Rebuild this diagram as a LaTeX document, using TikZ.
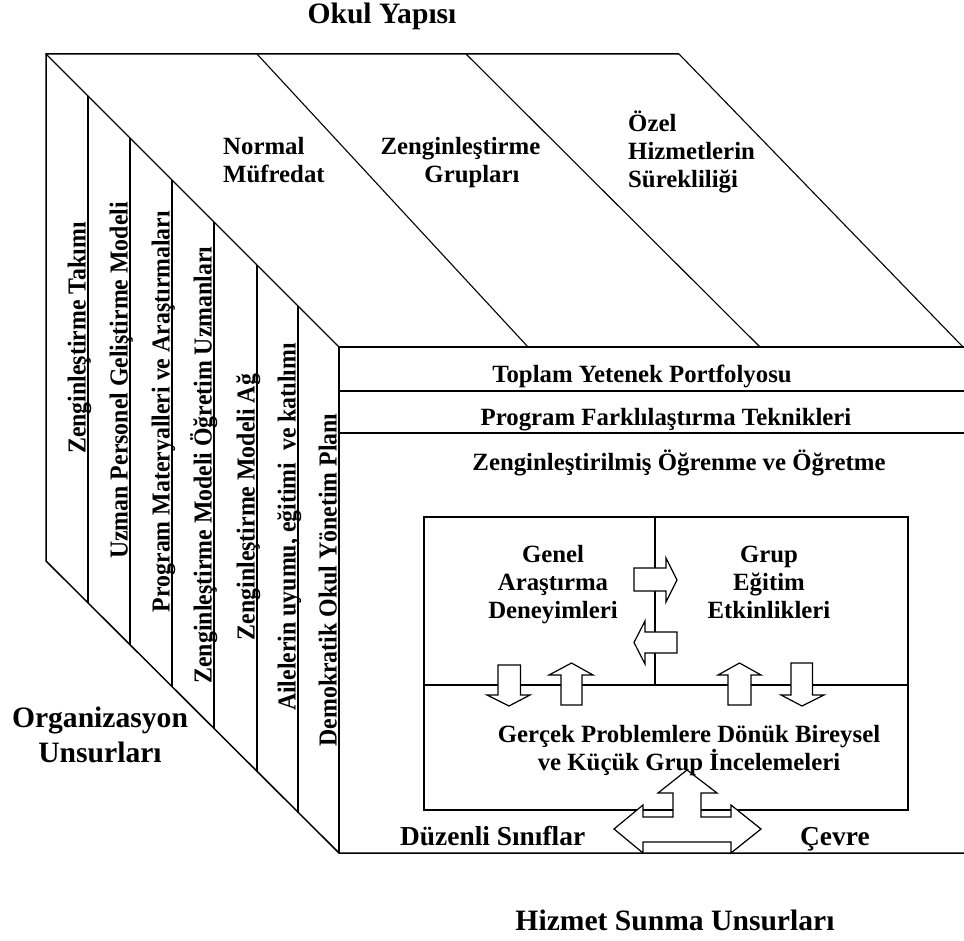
\documentclass[tikz,border=0pt]{standalone}
\usepackage{fontspec}
\setmainfont{Liberation Serif}
\newfontfamily\vfont{Liberation Serif}[FakeStretch=0.92]
\begin{document}
\begin{tikzpicture}[x=1pt,y=-1pt,
  lbl/.style={font=\bfseries\fontsize{24.8}{28}\selectfont, inner sep=0pt, anchor=base},
  lblw/.style={lbl, anchor=base west},
  vlbl/.style={font=\vfont\bfseries\fontsize{25.9}{29}\selectfont, inner sep=0pt, anchor=base, rotate=90},
  bigl/.style={font=\bfseries\fontsize{29.6}{34}\selectfont, inner sep=0pt, anchor=base},
  midl/.style={font=\bfseries\fontsize{27.4}{32}\selectfont, inner sep=0pt, anchor=base west},
  edge/.style={line width=1.5pt, line join=miter},
  thin/.style={line width=1.1pt},
  blk/.style={draw, fill=white, line width=1.2pt, line join=miter}]
\useasboundingbox (0,0) rectangle (964,941);

% corner coordinates of the block
\coordinate (tl) at (46,54);
\coordinate (tr) at (679,54);
\coordinate (lb) at (46,561);
\coordinate (ft) at (339,347);
\coordinate (fb) at (339,853);
\coordinate (fr) at (964,347);
\coordinate (frb) at (964,853);
\coordinate (trb) at (963,347);

% outline
\draw[edge] (tr) -- (tl) -- (lb) -- (fb) -- (frb);
\draw[edge] (ft) -- (fr);
\draw[edge] (ft) -- (fb);
\draw[thin] (tl) -- (ft);
\draw[thin] (tr) -- (trb);

% top face dividers
\coordinate (d1a) at (257,54); \coordinate (d1b) at (528,347);
\coordinate (d2a) at (466,54); \coordinate (d2b) at (760,347);
\draw[thin] (d1a) -- (d1b);
\draw[thin] (d2a) -- (d2b);

% left face strips
\foreach \x in {88,130,172,214,257,298}{
  \draw[edge] (\x,\x+8) -- (\x,\x+515);
}

% front face bands
\coordinate (b1l) at (339,391); \coordinate (b1r) at (964,391);
\coordinate (b2l) at (339,433); \coordinate (b2r) at (964,433);
\draw[edge] (b1l) -- (b1r);
\draw[edge] (b2l) -- (b2r);

% inner box
\coordinate (ib1) at (424,517); \coordinate (ib2) at (908,810);
\draw[edge] (ib1) rectangle (ib2);
\coordinate (vd1) at (655,517); \coordinate (vd2) at (655,685);
\coordinate (hm1) at (424,685); \coordinate (hm2) at (908,685);
\draw[thin] (vd1) -- (vd2);
\draw[edge] (hm1) -- (hm2);

% block arrows
\draw[blk] (634,568) -- (666,568) -- (666,558) -- (677,580) -- (666,602) -- (666,591) -- (634,591) -- cycle;
\draw[blk] (677,632) -- (645,632) -- (645,621) -- (634,642.5) -- (645,664) -- (645,653) -- (677,653) -- cycle;
\draw[blk] (498,665) -- (520.5,665) -- (520.5,695) -- (530,695) -- (509,706) -- (487,695) -- (498,695) -- cycle;
\draw[blk] (571.5,663) -- (593,675) -- (582,675) -- (582,705) -- (561,705) -- (561,675) -- (549,675) -- cycle;
\draw[blk] (739.5,663) -- (761,675) -- (751,675) -- (751,705) -- (728,705) -- (728,675) -- (718,675) -- cycle;
\draw[blk] (791,663) -- (812.5,663) -- (812.5,695) -- (824,695) -- (802,706) -- (781,695) -- (791,695) -- cycle;
% cross-shaped arrow at the bottom
\draw[blk] (687,770) -- (717,793) -- (701,793) -- (701,817) -- (731,817) -- (731,805) -- (761,829) -- (731,853) -- (731,842) -- (643,842) -- (643,853) -- (614,829) -- (643,805) -- (643,817) -- (673,817) -- (673,793) -- (658,793) -- cycle;

% titles
\node[bigl] (ttl) at (382,24) {Okul Yapısı};
\node[bigl] (org1) at (100,727) {Organizasyon};
\node[bigl] (org2) at (100,762) {Unsurları};
\node[bigl] (hiz) at (675,930) {Hizmet Sunma Unsurları};

% top face labels
\node[lblw] (nm1) at (223,155) {Normal};
\node[lblw] (nm2) at (223,183) {Müfredat};
\node[lbl] (zg1) at (460.5,155) {Zenginleştirme};
\node[lbl] (zg2) at (472,183) {Grupları};
\node[lblw] (oz1) at (628,132) {Özel};
\node[lblw] (oz2) at (628,160) {Hizmetlerin};
\node[lblw] (oz3) at (628,188) {Sürekliliği};

% left face labels
\node[vlbl] (s1) at (85.5,338) {Zenginleştirme Takımı};
\node[vlbl] (s2) at (127.5,380.5) {Uzman Personel Geliştirme Modeli};
\node[vlbl] (s3) at (169.5,411.5) {Program Materyalleri ve Araştırmaları};
\node[vlbl] (s4) at (211.5,465) {Zenginleştirme Modeli Öğretim Uzmanları};
\node[vlbl] (s5) at (254.5,507) {Zenginleştirme Modeli Ağ};
\node[vlbl] (s6) at (295.5,527) {Ailelerin uyumu, eğitimi~ ve katılımı};
\node[vlbl] (s7) at (336.5,580) {Demokratik Okul Yönetim Planı};

% front face labels
\node[lbl] (tp) at (642,382) {Toplam Yetenek Portfolyosu};
\node[lbl] (pf) at (666,425) {Program Farklılaştırma Teknikleri};
\node[lbl] (zo) at (679,470) {Zenginleştirilmiş Öğrenme ve Öğretme};

\node[lbl] (ga1) at (553,562) {Genel};
\node[lbl] (ga2) at (553,590) {Araştırma};
\node[lbl] (ga3) at (553,618) {Deneyimleri};
\node[lbl] (ge1) at (769,562) {Grup};
\node[lbl] (ge2) at (769,590) {Eğitim};
\node[lbl] (ge3) at (769,618) {Etkinlikleri};
\node[lbl] (gp1) at (689,742) {Gerçek Problemlere Dönük Bireysel};
\node[lbl] (gp2) at (689,770) {ve Küçük Grup İncelemeleri};

\node[midl] (ds) at (400,845) {Düzenli Sınıflar};
\node[midl] (cv) at (800,845) {Çevre};
\end{tikzpicture}
\end{document}
